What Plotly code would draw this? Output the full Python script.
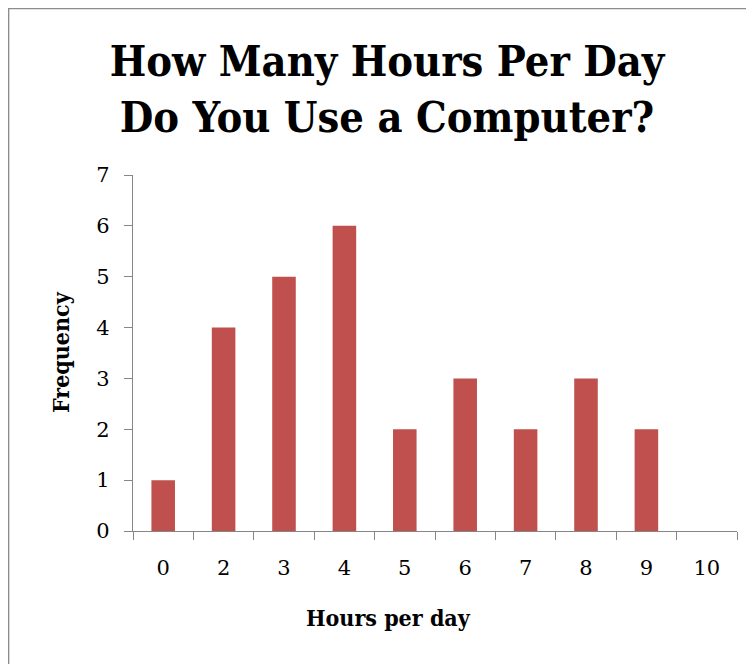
import plotly.graph_objects as go

# data
hours = ["0", "2", "3", "4", "5", "6", "7", "8", "9", "10"]
frequency = [1, 4, 5, 6, 2, 3, 2, 3, 2, 0]

title_text = "How Many Hours Per Day<br>Do You Use a Computer?"
x_title = "Hours per day"
y_title = "Frequency"

# the page body adds an 8px offset, so the figure is a bit smaller
W, H = 746, 656
L, R, T, B = 125, 17, 167, 133
PW, PH = W - L - R, H - T - B

bar_color = "#C0504D"
axis_color = "#868686"
serif = "DejaVu Serif, Liberation Serif, serif"
serif_bold = "DejaVu Serif Condensed, DejaVu Serif, serif"


def px_x(x):
    # figure pixel -> paper x
    return (x - L) / PW


def px_y(y):
    # figure pixel (from top) -> paper y
    return (H - B - y) / PH


fig = go.Figure()
fig.add_trace(
    go.Bar(
        x=hours,
        y=frequency,
        marker_color=bar_color,
        marker_line_width=0,
    )
)

# outer chart frame
fig.add_shape(
    type="rect", xref="paper", yref="paper",
    x0=px_x(0.6), x1=px_x(W + 30), y0=px_y(H + 30), y1=px_y(0.6),
    line=dict(color="#8C8C8C", width=1.5), layer="below",
)

fig.add_annotation(
    text=x_title, xref="paper", yref="paper",
    x=px_x(380), y=px_y(609), xanchor="center", yanchor="middle",
    showarrow=False,
    font=dict(family=serif_bold, size=23, color="#000000", weight="bold"),
)
fig.add_annotation(
    text=y_title, xref="paper", yref="paper", textangle=-90,
    x=px_x(52), y=px_y(344), xanchor="center", yanchor="middle",
    showarrow=False,
    font=dict(family=serif_bold, size=23, color="#000000", weight="bold"),
)

fig.update_xaxes(
    type="category",
    showline=True, linecolor=axis_color, linewidth=1.3,
    ticks="outside", ticklen=8, tickcolor=axis_color, tickwidth=1.3,
    tickson="boundaries",
    showgrid=False, zeroline=False,
    tickfont=dict(family=serif, size=21, color="#000000"),
    ticklabelstandoff=18,
)
fig.update_yaxes(
    range=[0, 7], dtick=1,
    showline=True, linecolor=axis_color, linewidth=1.3,
    ticks="outside", ticklen=8, tickcolor=axis_color, tickwidth=1.3,
    showgrid=False, zeroline=False,
    tickfont=dict(family=serif, size=21, color="#000000"),
    ticklabelstandoff=10,
)

fig.update_layout(
    width=W, height=H,
    margin=dict(l=L, r=R, t=T, b=B),
    paper_bgcolor="white", plot_bgcolor="white",
    bargap=0.61,
    showlegend=False,
    title=dict(
        text=title_text,
        xref="container", x=379 / W, xanchor="center",
        yref="container", y=1 - 68 / H, yanchor="middle",
        font=dict(family=serif_bold, size=43, color="#000000", weight="bold"),
    ),
)

fig.write_html("out.html")
